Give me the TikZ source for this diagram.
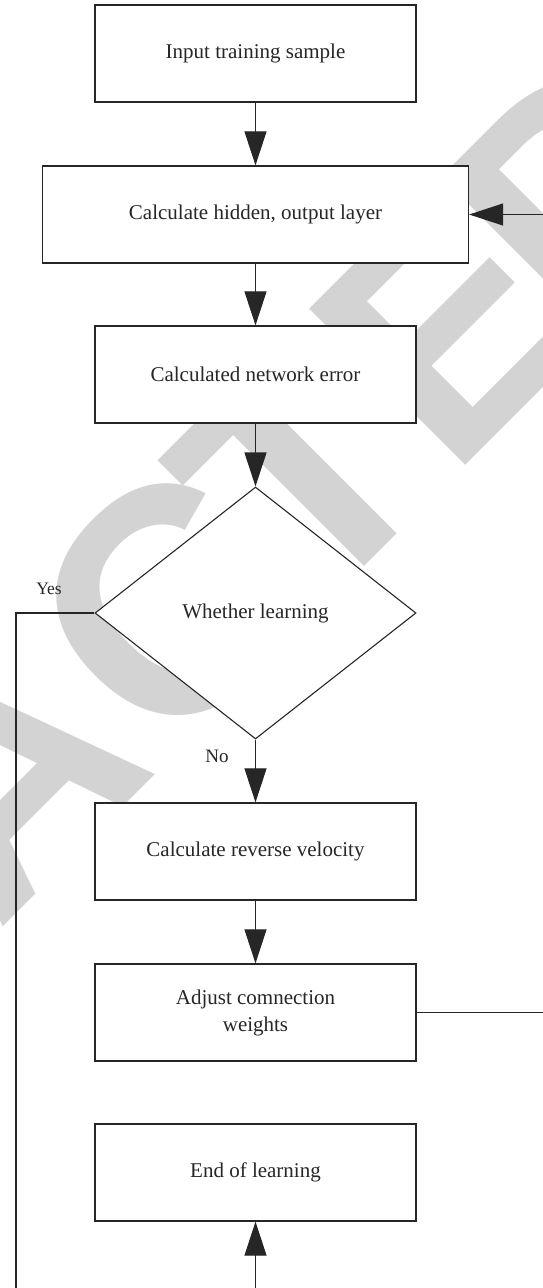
\documentclass[tikz,border=0pt]{standalone}
\usepackage{fontspec}
\setmainfont{Liberation Serif}
\newfontfamily\wmfont[Kerning=Off]{Liberation Sans}
\usetikzlibrary{shapes.geometric,arrows.meta}
\definecolor{linec}{HTML}{262626}
\definecolor{wmgrey}{HTML}{D3D3D3}
\begin{document}
\begin{tikzpicture}[x=1pt,y=-1pt,
  box/.style={draw=linec, line width=1.3pt, fill=white, minimum width=321pt,
    minimum height=97pt, inner sep=0pt, align=center,
    font=\fontsize{21}{27}\selectfont, text=linec},
  decision/.style={diamond, draw=linec, line width=1.1pt, fill=white,
    minimum width=321pt, minimum height=252pt, inner sep=0pt,
    font=\fontsize{21}{27}\selectfont, text=linec},
  lbl/.style={font=\fontsize{19}{24}\selectfont, text=linec, inner sep=0pt},
  conn/.style={draw=linec, line width=1.2pt},
  arr/.style={conn, -{Triangle[length=34pt,width=22pt]}},
  wm/.style={text=wmgrey, inner sep=0pt,
    font=\wmfont\bfseries\fontsize{321}{321}\selectfont}]
\useasboundingbox (0,0) rectangle (543,1288);
\begin{scope}
\clip (0,0) rectangle (543,1288);
% watermark
\node[wm, rotate=45, anchor=base west] (wm) at (-620.2,1550.8)
  {RETRA\kern6pt C\kern-26pt TE\kern-27pt D};
% nodes
\node[box] (b1) at (255.5,53.5) {Input training sample};
\node[box, minimum width=426pt] (b2) at (255.5,214.5) {Calculate hidden, output layer};
\node[box] (b3) at (255.5,374.5) {Calculated network error};
\node[decision] (d) at (255.5,613) {Whether learning};
\node[box] (b4) at (255.5,851.5) {Calculate reverse velocity};
\node[box] (b5) at (255.5,1012.5) {Adjust comnection\\weights};
\node[box] (b6) at (255.5,1172.5) {End of learning};
\node[lbl, font=\fontsize{17.5}{22}\selectfont] (yes) at (49,589) {Yes};
\node[lbl] (no) at (217,756) {No};
\coordinate (rtop) at (570,214.5);
\coordinate (rbot) at (570,1012.5);
\coordinate (lbot) at (16,1320);
\coordinate (mbot) at (255.5,1320);
% connectors
\draw[arr] (b1.south) -- (b2.north);
\draw[arr] (b2.south) -- (b3.north);
\draw[arr] (b3.south) -- (d.north);
\draw[arr] (d.south) -- (b4.north);
\draw[arr] (b4.south) -- (b5.north);
\draw[arr] (b5.east) -- (rbot) -- (rtop) -- (b2.east);
\draw[arr] (d.west) -| (lbot) -- (mbot) -- (b6.south);
\end{scope}
\end{tikzpicture}
\end{document}
